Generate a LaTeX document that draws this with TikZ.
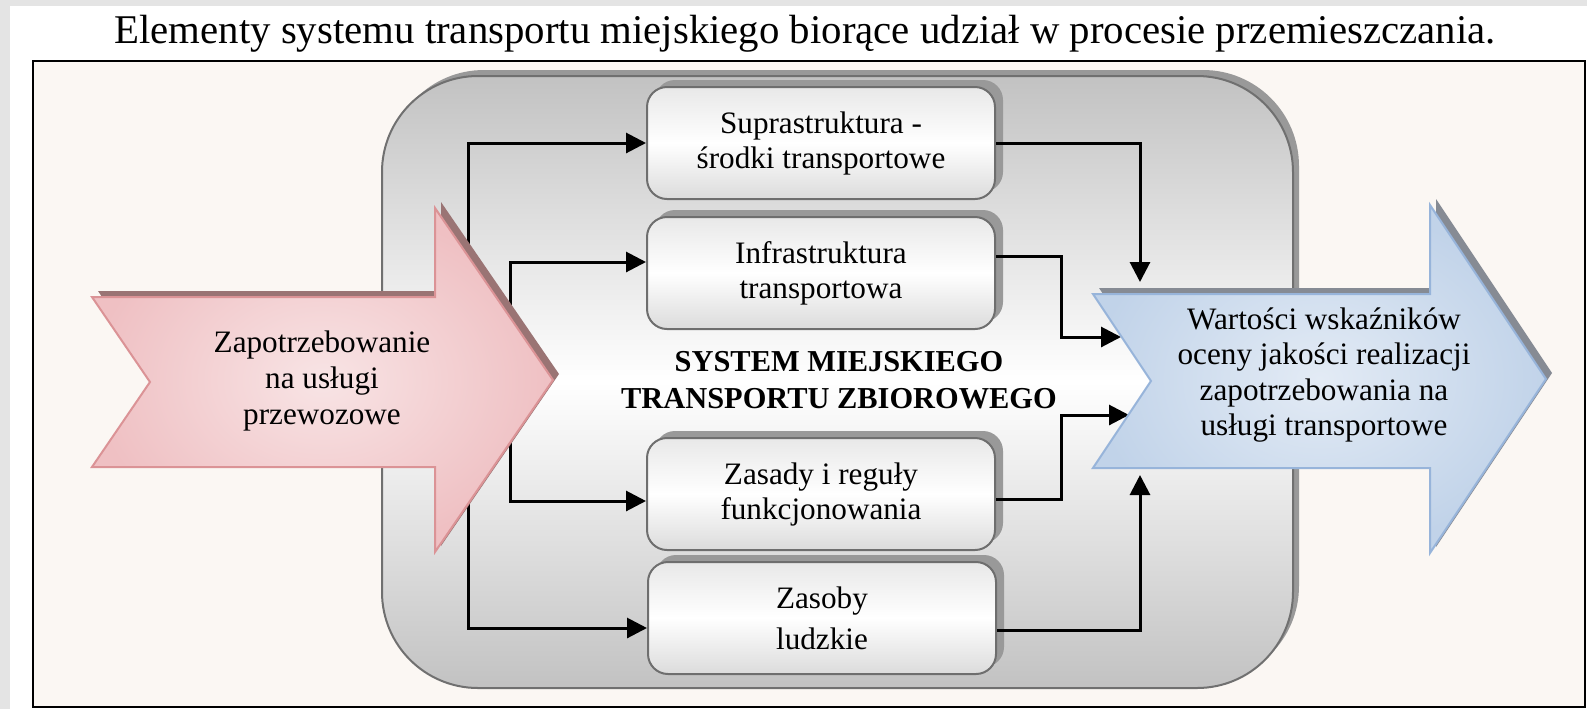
\documentclass[tikz,border=0pt]{standalone}
\usepackage{fontspec}
\setmainfont{Liberation Serif}
\usetikzlibrary{arrows.meta,shadows}
\definecolor{pagegray}{HTML}{E4E4E4}
\definecolor{cream}{HTML}{FBF7F3}
\definecolor{sysgray}{HTML}{C2C2C2}
\definecolor{sysline}{HTML}{707070}
\definecolor{boxline}{HTML}{6E6E6E}
\definecolor{shadowgray}{HTML}{999999}
\definecolor{pinkfill}{HTML}{EFC0C3}
\definecolor{pinkin}{HTML}{F8E4E5}
\definecolor{pinkline}{HTML}{DB9396}
\definecolor{pinkshadow}{HTML}{9A7474}
\definecolor{bluefill}{HTML}{C1D3E9}
\definecolor{bluein}{HTML}{E3EBF5}
\definecolor{blueline}{HTML}{97B4DA}
\definecolor{blueshadow}{HTML}{868B94}
\begin{document}
\begin{tikzpicture}[x=0.5pt,y=-0.5pt,
  elem/.style={draw=boxline, line width=1pt, rounded corners=10pt,
    top color=gray!18, bottom color=gray!28, middle color=white,
    minimum width=174pt, minimum height=56pt, align=center,
    font=\fontsize{15.6}{17.5}\selectfont,
    drop shadow={shadow xshift=4pt,shadow yshift=3.5pt,fill=shadowgray,opacity=1}},
  conn/.style={line width=1.5pt, draw=black},
  tip/.style={conn, -{Triangle[length=10pt,width=10pt]}},
  lbl/.style={align=center, font=\fontsize{15.6}{18}\selectfont}]
\useasboundingbox (0,0) rectangle (1587,709);
% page
\fill[pagegray] (0,0) rectangle (1587,709);
\fill[white] (10,6) rectangle (1587,709);
\node[font=\fontsize{20.4}{23}\selectfont] (title) at (805,34) {Elementy systemu transportu miejskiego biorące udział w procesie przemieszczania.};
\draw[line width=1.3pt, fill=cream] (33,61) rectangle (1585,707);
% system box
\path[draw=sysline, line width=1pt, rounded corners=48pt,
  top color=sysgray, bottom color=sysgray, middle color=white,
  drop shadow={shadow xshift=3pt,shadow yshift=3pt,fill=shadowgray,opacity=1}]
  (382,76) rectangle (1293,688);
% elements
\node[elem] (b1) at (821,143) {Suprastruktura -\\środki transportowe};
\node[elem] (b2) at (821,273) {Infrastruktura\\transportowa};
\node[elem] (b3) at (821,494) {Zasady i reguły\\funkcjonowania};
\node[elem] (b4) at (822,618) {Zasoby\\[3pt]ludzkie};
\node[font=\bfseries\fontsize{15.2}{18.5}\selectfont, align=center] (sys) at (839,380) {SYSTEM MIEJSKIEGO\\TRANSPORTU ZBIOROWEGO};
% connectors
\coordinate (L1) at (468,380);
\coordinate (L2) at (510,380);
\draw[tip] (L1) |- (b1.west);
\draw[tip] (L1) |- ([yshift=-5pt]b4.west);
\draw[tip] (L2) |- ([yshift=5.5pt]b2.west);
\draw[tip] (L2) |- ([yshift=-3.5pt]b3.west);
\coordinate (R1) at (1140,282);
\coordinate (J2) at (1061,337);
\coordinate (R2) at (1121,337);
\coordinate (J3) at (1061,415);
\coordinate (R3) at (1129,415);
\coordinate (R4) at (1140,475);
\draw[tip] (b1.east) -| (R1);
\draw[tip] ([yshift=8.5pt]b2.east) -| (J2) -- (R2);
\draw[tip] ([yshift=-2.5pt]b3.east) -| (J3) -- (R3);
\draw[tip] ([yshift=-6pt]b4.east) -| (R4);
% input arrow
\path[draw=pinkline, line width=1pt, inner color=pinkin, outer color=pinkfill,
  drop shadow={shadow xshift=3pt,shadow yshift=3pt,fill=pinkshadow,opacity=1}]
  (92,297) -- (435,297) -- (435,208) -- (553,380) -- (435,552) -- (435,467) -- (92,467) -- (150,382) -- cycle;
\node[lbl] (inTxt) at (322,381) {Zapotrzebowanie\\na usługi\\przewozowe};
% output arrow
\path[draw=blueline, line width=1pt, inner color=bluein, outer color=bluefill,
  drop shadow={shadow xshift=3pt,shadow yshift=3pt,fill=blueshadow,opacity=1}]
  (1093,294) -- (1430,294) -- (1430,205) -- (1546,379) -- (1430,553) -- (1430,468) -- (1093,468) -- (1151,381) -- cycle;
\node[lbl, font=\fontsize{15.6}{17.7}\selectfont] (outTxt) at (1324,375) {Wartości wskaźników\\oceny jakości realizacji\\zapotrzebowania na\\usługi transportowe};
\end{tikzpicture}
\end{document}
